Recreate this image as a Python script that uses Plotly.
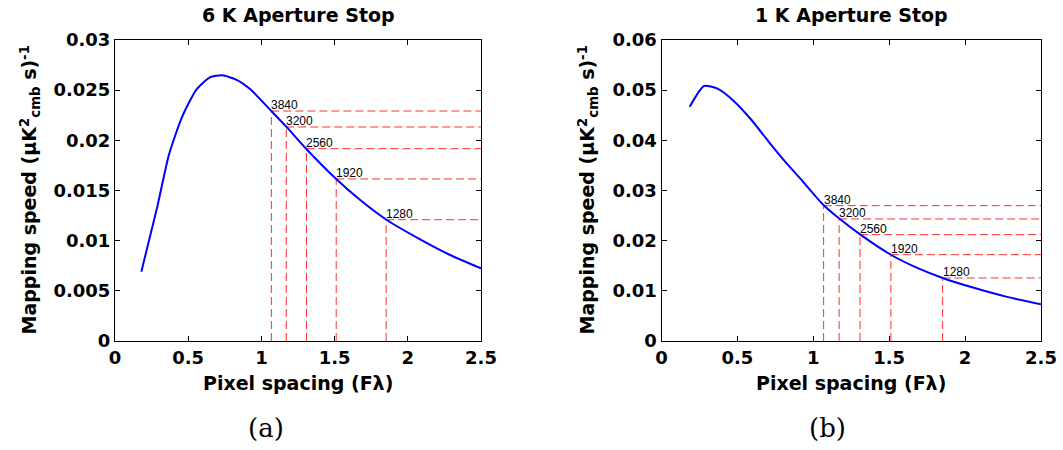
import plotly.graph_objects as go

# ---- data ----
x_6k = [0.18, 0.289, 0.368, 0.459, 0.557, 0.648, 0.732, 0.834, 0.925, 1.068, 1.170, 1.307, 1.511, 1.675, 1.857, 2.084, 2.289, 2.5]
y_6k = [0.00691, 0.01339, 0.01854, 0.02236, 0.02508, 0.02628, 0.02648, 0.02601, 0.02508, 0.02292, 0.02136, 0.01914, 0.01615, 0.01405, 0.01206, 0.01013, 0.00857, 0.00724]

x_1k = [0.186, 0.280, 0.369, 0.481, 0.593, 0.704, 0.816, 0.928, 1.067, 1.169, 1.308, 1.514, 1.666, 1.852, 2.046, 2.27, 2.5]
y_1k = [0.04671, 0.05083, 0.0503, 0.04771, 0.04405, 0.0398, 0.0357, 0.0319, 0.02711, 0.02445, 0.02126, 0.01714, 0.01482, 0.01256, 0.0107, 0.00884, 0.00731]

pixel_counts = ["3840", "3200", "2560", "1920", "1280"]
spacing = [1.068, 1.170, 1.308, 1.511, 1.852]
ms_6k = [0.02292, 0.02133, 0.01917, 0.01615, 0.01209]
ms_1k = [0.02698, 0.02432, 0.0212, 0.01721, 0.01256]

titles = ["6 K Aperture Stop", "1 K Aperture Stop"]
panel_labels = ["(a)", "(b)"]
ymax = [0.03, 0.06]
ydtick = [0.005, 0.01]

# ---- layout geometry (pixels) ----
W, H = 1063, 450
xdom = [(115, 481), (661.5, 1041)]
ytop, ybot = 40, 341

fig = go.Figure()
FONT = "DejaVu Sans, Verdana, sans-serif"

def dashed(xs, ys, xend):
    hx, hy, vx, vy = [], [], [], []
    for x, y in zip(xs, ys):
        hx += [x, xend, None]
        hy += [y, y, None]
        vx += [x, x, None]
        vy += [0, y, None]
    return hx + vx, hy + vy

annotations = []
for i, (xc, yc, ms) in enumerate([(x_6k, y_6k, ms_6k), (x_1k, y_1k, ms_1k)]):
    xa = "x" if i == 0 else "x2"
    ya = "y" if i == 0 else "y2"
    dx, dy = dashed(spacing, ms, 2.5)
    fig.add_trace(go.Scatter(x=dx, y=dy, mode="lines", xaxis=xa, yaxis=ya,
                             line=dict(color="#ff3030", width=1, dash="8px,4px"),
                             hoverinfo="skip", showlegend=False))
    fig.add_trace(go.Scatter(x=xc, y=yc, mode="lines", xaxis=xa, yaxis=ya,
                             line=dict(color="#0000ff", width=2, shape="spline", smoothing=0.6),
                             showlegend=False))
    for lab, sx, sy in zip(pixel_counts, spacing, ms):
        annotations.append(dict(x=sx, y=sy, xref=xa, yref=ya, text=lab, showarrow=False,
                                xanchor="left", yanchor="bottom", xshift=-2, yshift=-3,
                                font=dict(family="Liberation Sans, Arial, sans-serif", size=12, color="black")))
    x0, x1 = xdom[i]
    cx = (x0 + x1) / 2 / W
    annotations.append(dict(x=cx, y=1 - 15 / H, xref="paper", yref="paper", text=titles[i],
                            showarrow=False, xanchor="center", yanchor="middle",
                            font=dict(family=FONT, size=19, color="black", weight="bold")))
    annotations.append(dict(x=cx, y=1 - 383 / H, xref="paper", yref="paper", text="Pixel spacing (Fλ)",
                            showarrow=False, xanchor="center", yanchor="middle",
                            font=dict(family=FONT, size=19, color="black", weight="bold")))
    ylx = 30 if i == 0 else 588
    annotations.append(dict(x=ylx / W, y=1 - ((ytop + ybot) / 2) / H, xref="paper", yref="paper",
                            text="Mapping speed (μK<sup>2</sup><sub>cmb</sub> s)<sup>-1</sup>",
                            textangle=-90, showarrow=False, xanchor="center", yanchor="middle",
                            font=dict(family=FONT, size=19, color="black", weight="bold")))
    annotations.append(dict(x=cx - 32 / W if i == 0 else cx - 24 / W, y=1 - 428 / H, xref="paper", yref="paper",
                            text=panel_labels[i], showarrow=False, xanchor="center", yanchor="middle",
                            font=dict(family="DejaVu Serif, Liberation Serif, serif", size=26, color="black")))

axis_common = dict(showline=True, mirror="ticks", linecolor="black", linewidth=1, automargin=False,
                   ticks="inside", ticklen=5, tickcolor="black", showgrid=False, zeroline=False,
                   tickfont=dict(family=FONT, size=18, color="black", weight="bold"))

ydom = [1 - ybot / H, 1 - ytop / H]
fig.update_layout(
    width=W, height=H, margin=dict(l=0, r=0, t=0, b=0, autoexpand=False),
    paper_bgcolor="white", plot_bgcolor="white",
    xaxis=dict(domain=[xdom[0][0] / W, xdom[0][1] / W], range=[0, 2.5], dtick=0.5, anchor="y", **axis_common),
    yaxis=dict(domain=ydom, range=[0, ymax[0]], dtick=ydtick[0], anchor="x", **axis_common),
    xaxis2=dict(domain=[xdom[1][0] / W, xdom[1][1] / W], range=[0, 2.5], dtick=0.5, anchor="y2", **axis_common),
    yaxis2=dict(domain=ydom, range=[0, ymax[1]], dtick=ydtick[1], anchor="x2", **axis_common),
    annotations=annotations,
)

fig.write_html("out.html")
